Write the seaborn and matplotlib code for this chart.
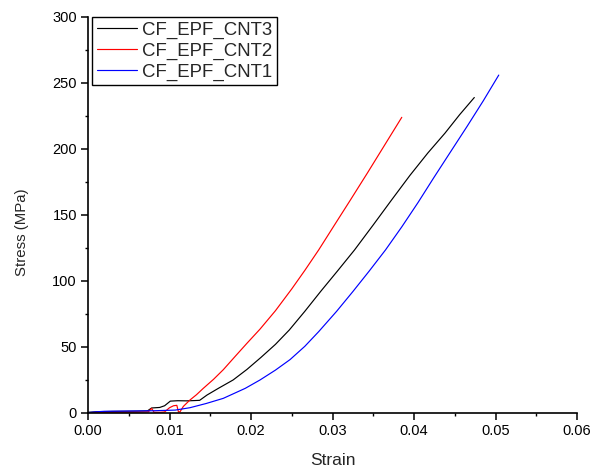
import matplotlib
matplotlib.use("Agg")
import matplotlib.pyplot as plt
from matplotlib.ticker import MultipleLocator, FormatStrFormatter
import pandas as pd
import seaborn as sns

# Stress-strain curves of the three CF/epoxy/CNT specimens
strain_cnt3 = [0.0, 0.0010, 0.0030, 0.0060, 0.0073, 0.0078, 0.0088, 0.0094, 0.0101,
               0.0110, 0.0121, 0.0130, 0.0137, 0.0146, 0.0160, 0.0178, 0.0195, 0.0212,
               0.0230, 0.0247, 0.0266, 0.0286, 0.0306, 0.0327, 0.0350, 0.03725, 0.0395,
               0.0417, 0.0438, 0.0456, 0.0474]
stress_cnt3 = [0.5, 0.9, 1.2, 1.4, 1.6, 3.8, 4.2, 5.5, 9.0,
               9.3, 9.2, 9.4, 9.6, 13.6, 18.7, 25.0, 33.0, 42.0,
               52.0, 62.9, 77.0, 92.5, 107.5, 123.5, 142.5, 161.4, 180.0,
               197.0, 212.0, 226.0, 239.0]

strain_cnt2 = [0.0, 0.0010, 0.0030, 0.0060, 0.0074, 0.0078, 0.0081, 0.0088, 0.0094,
               0.0100, 0.0105, 0.0109, 0.0111, 0.0113, 0.0117, 0.0125, 0.0133, 0.01415,
               0.0154, 0.0166, 0.0180, 0.0195, 0.0211, 0.0230, 0.0250, 0.0266, 0.0283,
               0.0302, 0.0322, 0.0343, 0.0364, 0.0385]
stress_cnt2 = [0.2, 0.4, 0.5, 0.6, 0.8, 3.5, 0.6, 0.5, 0.8,
               4.0, 5.5, 5.8, 0.8, 1.0, 5.0, 9.8, 13.8, 18.7,
               25.5, 32.8, 42.5, 52.8, 63.5, 77.5, 94.0, 108.0, 123.5,
               142.0, 161.4, 182.0, 203.0, 224.0]

strain_cnt1 = [0.0, 0.0010, 0.0020, 0.0050, 0.0080, 0.0107, 0.0125, 0.0145, 0.0166,
               0.0193, 0.0211, 0.0230, 0.0248, 0.0266, 0.0283, 0.0305, 0.0325, 0.0345,
               0.0365, 0.0385, 0.0405, 0.0424, 0.0445, 0.0465, 0.0485, 0.0504]
stress_cnt1 = [0.3, 0.9, 1.3, 1.5, 1.7, 2.2, 4.0, 7.2, 11.1,
               18.7, 25.0, 32.5, 40.5, 50.5, 61.6, 77.0, 92.0, 107.5,
               123.5, 141.0, 159.5, 178.0, 198.0, 217.0, 236.5, 256.0]

samples = ["CF_EPF_CNT3", "CF_EPF_CNT2", "CF_EPF_CNT1"]
colors = {"CF_EPF_CNT3": "#000000", "CF_EPF_CNT2": "#FF0000", "CF_EPF_CNT1": "#0000FF"}

df = pd.concat([
    pd.DataFrame({"Strain": strain_cnt3, "Stress": stress_cnt3, "Sample": samples[0]}),
    pd.DataFrame({"Strain": strain_cnt2, "Stress": stress_cnt2, "Sample": samples[1]}),
    pd.DataFrame({"Strain": strain_cnt1, "Stress": stress_cnt1, "Sample": samples[2]}),
], ignore_index=True)

sns.set_style("ticks")
plt.rcParams["font.family"] = ["Liberation Sans", "DejaVu Sans"]

fig = plt.figure(figsize=(5.93, 4.75), dpi=100)
ax = fig.add_axes([88 / 593, 1 - 413 / 475, (577 - 88) / 593, (413 - 17) / 475])

sns.lineplot(data=df, x="Strain", y="Stress", hue="Sample", hue_order=samples,
             palette=colors, sort=False, estimator=None, linewidth=0.85, ax=ax)

ax.set_xlim(0, 0.06)
ax.set_ylim(0, 300)
ax.xaxis.set_major_locator(MultipleLocator(0.01))
ax.xaxis.set_minor_locator(MultipleLocator(0.005))
ax.xaxis.set_major_formatter(FormatStrFormatter("%.2f"))
ax.yaxis.set_major_locator(MultipleLocator(50))
ax.yaxis.set_minor_locator(MultipleLocator(25))

for side in ("top", "right"):
    ax.spines[side].set_visible(False)
for side in ("left", "bottom"):
    ax.spines[side].set_linewidth(1.2)
    ax.spines[side].set_color("black")

ax.tick_params(which="major", direction="out", length=5, width=1.1, labelsize=10.5,
               colors="black", pad=3)
ax.tick_params(which="minor", direction="out", length=2.5, width=1.0, colors="black")

ax.set_xlabel("Strain", fontsize=12.5, labelpad=11)
ax.set_ylabel("Stress (MPa)", fontsize=10.8)
ax.yaxis.set_label_coords(-0.12, 0.457)

handles, labels = ax.get_legend_handles_labels()
leg = ax.legend(handles, labels, loc="upper left", bbox_to_anchor=(4 / 489, 1.0),
                borderaxespad=0, fontsize=13.4, frameon=True, fancybox=False,
                framealpha=1, edgecolor="black", handlelength=2.15,
                handletextpad=0.27, labelspacing=0.2, borderpad=0.25, title=None)
leg.get_frame().set_linewidth(1.0)

fig.savefig("out.png", dpi=100, facecolor="white")
